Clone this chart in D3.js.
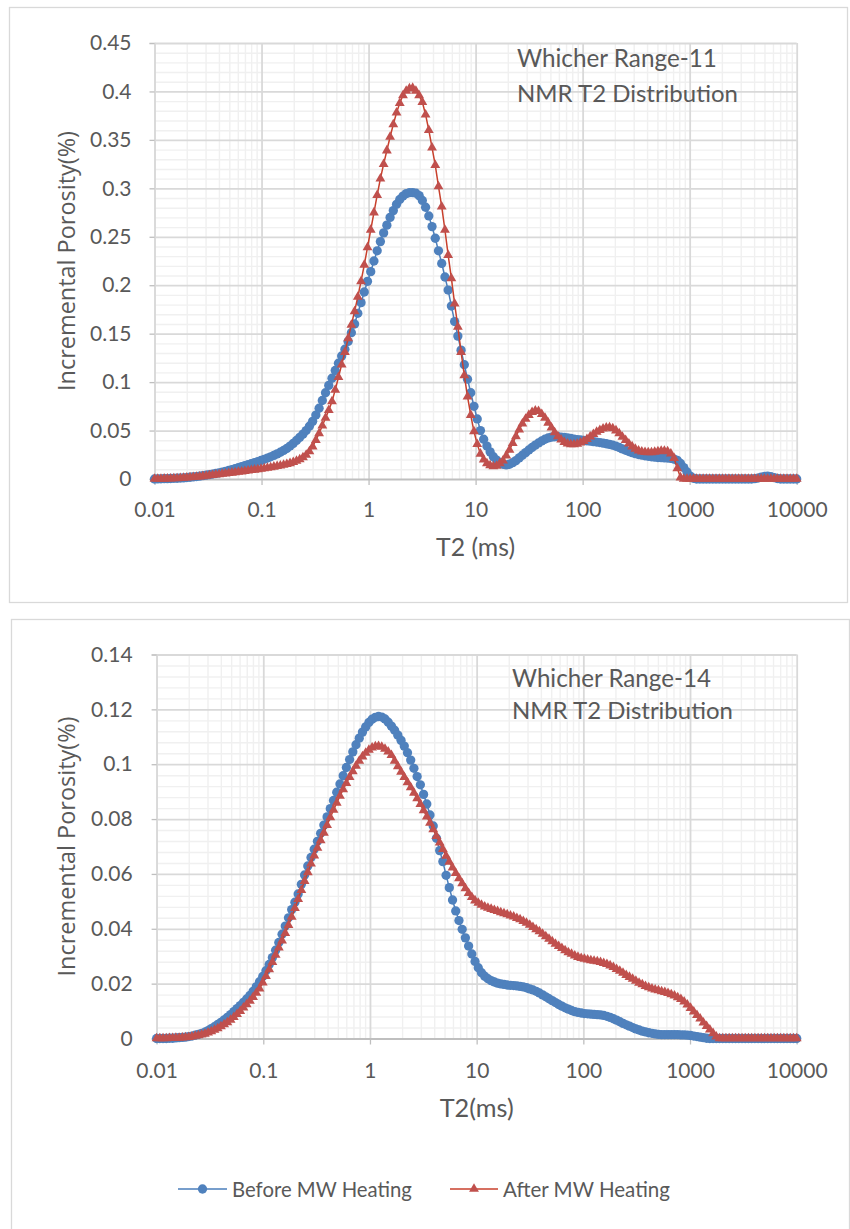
<!DOCTYPE html>
<html>
<head>
<meta charset="utf-8">
<script src="https://cdn.jsdelivr.net/npm/d3@7"></script>
<style>
  html, body { margin: 0; padding: 0; background: #ffffff; }
  svg { display: block; }
</style>
</head>
<body>
<script>
// ---- Data -------------------------------------------------------------
// NMR T2 bins: 200 logarithmically spaced relaxation times, 0.01 – 10000 ms
const binCount = 200;
const t2Bins = d3.range(binCount).map(i => Math.pow(10, -2 + 6 * i / (binCount - 1)));

// Whicher Range-11, incremental porosity (%) per T2 bin
const before11 = [
  0, 0.0001, 0.0002, 0.0003, 0.0004, 0.0005, 0.0007, 0.0008, 0.0010, 0.0012,
  0.0015, 0.0018, 0.0021, 0.0025, 0.0029, 0.0034, 0.0039, 0.0045, 0.0051, 0.0057,
  0.0064, 0.0071, 0.0079, 0.0088, 0.0097, 0.0107, 0.0118, 0.0128, 0.0138, 0.0148,
  0.0158, 0.0169, 0.0180, 0.0191, 0.0203, 0.0216, 0.0229, 0.0244, 0.0259, 0.0276,
  0.0295, 0.0315, 0.0340, 0.0368, 0.0398, 0.0430, 0.0463, 0.0500, 0.0545, 0.0595,
  0.0660, 0.0730, 0.0810, 0.0890, 0.0966, 0.1040, 0.1120, 0.1195, 0.1270, 0.1340,
  0.1420, 0.1510, 0.1600, 0.1710, 0.1820, 0.1930, 0.2040, 0.2140, 0.2250, 0.2355,
  0.2450, 0.2540, 0.2620, 0.2700, 0.2770, 0.2835, 0.2885, 0.2920, 0.2945, 0.2955,
  0.2955, 0.2950, 0.2925, 0.2875, 0.2805, 0.2715, 0.2605, 0.2485, 0.2355, 0.2225,
  0.2085, 0.1950, 0.1785, 0.1625, 0.1475, 0.1330, 0.1180, 0.1030, 0.0890, 0.0750,
  0.0620, 0.0500, 0.0410, 0.0340, 0.0280, 0.0230, 0.0195, 0.0170, 0.0152, 0.0145,
  0.0152, 0.0168, 0.0190, 0.0218, 0.0245, 0.0272, 0.0300, 0.0325, 0.0350, 0.0372,
  0.0393, 0.0410, 0.0424, 0.0432, 0.0436, 0.0436, 0.0433, 0.0429, 0.0424, 0.0418,
  0.0412, 0.0407, 0.0403, 0.0399, 0.0395, 0.0391, 0.0386, 0.0381, 0.0376, 0.0370,
  0.0364, 0.0357, 0.0349, 0.0338, 0.0325, 0.0311, 0.0297, 0.0284, 0.0272, 0.0262,
  0.0253, 0.0246, 0.0240, 0.0234, 0.0229, 0.0225, 0.0222, 0.0220, 0.0218, 0.0216,
  0.0212, 0.0205, 0.0192, 0.0160, 0.0118, 0.0072, 0.0030, 0.0008, 0, 0,
  0, 0, 0, 0, 0, 0, 0, 0, 0, 0,
  0, 0, 0, 0, 0, 0, 0.0003, 0.0010, 0.0020, 0.0028,
  0.0030, 0.0024, 0.0014, 0.0005, 0, 0, 0, 0, 0, 0
];
const after11 = [
  0, 0, 0.0001, 0.0002, 0.0003, 0.0004, 0.0005, 0.0007, 0.0009, 0.0011,
  0.0013, 0.0016, 0.0019, 0.0022, 0.0025, 0.0028, 0.0032, 0.0036, 0.0040, 0.0044,
  0.0048, 0.0052, 0.0056, 0.0060, 0.0064, 0.0068, 0.0072, 0.0076, 0.0080, 0.0085,
  0.0090, 0.0095, 0.0100, 0.0105, 0.0110, 0.0115, 0.0120, 0.0126, 0.0132, 0.0138,
  0.0145, 0.0153, 0.0162, 0.0173, 0.0186, 0.0202, 0.0222, 0.0248, 0.0285, 0.0335,
  0.0400, 0.0470, 0.0550, 0.0630, 0.0710, 0.0800, 0.0920, 0.1050, 0.1180, 0.1310,
  0.1450, 0.1590, 0.1730, 0.1880, 0.2040, 0.2210, 0.2390, 0.2570, 0.2750, 0.2930,
  0.3100, 0.3250, 0.3390, 0.3530, 0.3660, 0.3780, 0.3880, 0.3960, 0.4005, 0.4030,
  0.4035, 0.4005, 0.3960, 0.3890, 0.3760, 0.3600, 0.3420, 0.3240, 0.3020, 0.2810,
  0.2570, 0.2310, 0.2070, 0.1810, 0.1570, 0.1310, 0.1070, 0.0850, 0.0660, 0.0490,
  0.0360, 0.0260, 0.0200, 0.0160, 0.0140, 0.0130, 0.0135, 0.0160, 0.0190, 0.0240,
  0.0300, 0.0370, 0.0440, 0.0510, 0.0570, 0.0620, 0.0660, 0.0690, 0.0705, 0.0700,
  0.0670, 0.0630, 0.0580, 0.0530, 0.0480, 0.0440, 0.0405, 0.0380, 0.0365, 0.0358,
  0.0357, 0.0362, 0.0374, 0.0390, 0.0412, 0.0437, 0.0462, 0.0485, 0.0505, 0.0520,
  0.0530, 0.0532, 0.0522, 0.0500, 0.0470, 0.0435, 0.0400, 0.0365, 0.0335, 0.0310,
  0.0293, 0.0282, 0.0276, 0.0274, 0.0275, 0.0279, 0.0284, 0.0289, 0.0290, 0.0284,
  0.0262, 0.0215, 0.0110, 0.0015, 0, 0, 0, 0, 0, 0,
  0, 0, 0, 0, 0, 0, 0, 0, 0, 0,
  0, 0, 0, 0, 0, 0, 0, 0, 0, 0,
  0, 0, 0, 0, 0, 0, 0, 0, 0, 0
];

// Whicher Range-14, incremental porosity (%) per T2 bin
const before14 = [
  0, 0, 0, 0, 0.0001, 0.0001, 0.0002, 0.0003, 0.0004, 0.0005,
  0.0007, 0.0009, 0.0012, 0.0015, 0.0019, 0.0023, 0.0029, 0.0036, 0.0043, 0.0051,
  0.0059, 0.0068, 0.0077, 0.0087, 0.0098, 0.0109, 0.0120, 0.0132, 0.0144, 0.0157,
  0.0172, 0.0189, 0.0207, 0.0226, 0.0247, 0.0270, 0.0295, 0.0322, 0.0350, 0.0380,
  0.0410, 0.0440, 0.0470, 0.0497, 0.0527, 0.0562, 0.0596, 0.0629, 0.0660, 0.0690,
  0.0719, 0.0748, 0.0778, 0.0808, 0.0838, 0.0868, 0.0898, 0.0928, 0.0958, 0.0988,
  0.1017, 0.1045, 0.1071, 0.1095, 0.1117, 0.1136, 0.1152, 0.1164, 0.1171, 0.1174,
  0.1172, 0.1165, 0.1153, 0.1139, 0.1124, 0.1106, 0.1087, 0.1066, 0.1042, 0.1015,
  0.0985, 0.0955, 0.0925, 0.0890, 0.0855, 0.0815, 0.0775, 0.0730, 0.0685, 0.0645,
  0.0595, 0.0550, 0.0505, 0.0465, 0.0430, 0.0398, 0.0367, 0.0337, 0.0308, 0.0281,
  0.0258, 0.0240, 0.0227, 0.0218, 0.0211, 0.0206, 0.0202, 0.0199, 0.0197, 0.0195,
  0.0194, 0.0193, 0.0192, 0.0190, 0.0188, 0.0185, 0.0181, 0.0177, 0.0172, 0.0166,
  0.0159, 0.0152, 0.0145, 0.0138, 0.0131, 0.0124, 0.0118, 0.0112, 0.0107, 0.0102,
  0.0098, 0.0095, 0.0093, 0.0091, 0.0090, 0.0089, 0.0088, 0.0087, 0.0086, 0.0084,
  0.0081, 0.0077, 0.0072, 0.0067, 0.0061, 0.0055, 0.0050, 0.0045, 0.0040, 0.0035,
  0.0031, 0.0027, 0.0024, 0.0021, 0.0019, 0.0017, 0.0015, 0.0014, 0.0014, 0.0014,
  0.0014, 0.0014, 0.0014, 0.0013, 0.0013, 0.0012, 0.0011, 0.0009, 0.0007, 0.0005,
  0.0003, 0.0001, 0, 0, 0, 0, 0, 0, 0, 0,
  0, 0, 0, 0, 0, 0, 0, 0, 0, 0,
  0, 0, 0, 0, 0, 0, 0, 0, 0, 0
];
const after14 = [
  0, 0, 0, 0, 0.0001, 0.0001, 0.0002, 0.0002, 0.0003, 0.0004,
  0.0005, 0.0007, 0.0009, 0.0011, 0.0014, 0.0017, 0.0021, 0.0026, 0.0031, 0.0037,
  0.0044, 0.0051, 0.0059, 0.0068, 0.0078, 0.0089, 0.0100, 0.0112, 0.0124, 0.0137,
  0.0151, 0.0166, 0.0182, 0.0204, 0.0227, 0.0252, 0.0278, 0.0305, 0.0331, 0.0357,
  0.0384, 0.0413, 0.0443, 0.0475, 0.0508, 0.0541, 0.0574, 0.0606, 0.0637, 0.0667,
  0.0695, 0.0722, 0.0750, 0.0778, 0.0806, 0.0833, 0.0859, 0.0884, 0.0908, 0.0931,
  0.0953, 0.0974, 0.0994, 0.1012, 0.1028, 0.1041, 0.1052, 0.1060, 0.1065, 0.1066,
  0.1063, 0.1056, 0.1046, 0.1033, 0.1012, 0.0992, 0.0972, 0.0953, 0.0934, 0.0915,
  0.0895, 0.0875, 0.0854, 0.0832, 0.0809, 0.0786, 0.0762, 0.0738, 0.0714, 0.0690,
  0.0666, 0.0644, 0.0623, 0.0603, 0.0584, 0.0565, 0.0547, 0.0530, 0.0515, 0.0503,
  0.0494, 0.0487, 0.0481, 0.0476, 0.0472, 0.0468, 0.0464, 0.0460, 0.0456, 0.0452,
  0.0448, 0.0444, 0.0439, 0.0434, 0.0428, 0.0421, 0.0414, 0.0406, 0.0398, 0.0390,
  0.0381, 0.0372, 0.0363, 0.0354, 0.0345, 0.0337, 0.0329, 0.0321, 0.0314, 0.0308,
  0.0302, 0.0297, 0.0293, 0.0290, 0.0287, 0.0285, 0.0283, 0.0281, 0.0278, 0.0275,
  0.0271, 0.0266, 0.0260, 0.0253, 0.0246, 0.0239, 0.0231, 0.0224, 0.0217, 0.0210,
  0.0203, 0.0197, 0.0191, 0.0186, 0.0182, 0.0178, 0.0175, 0.0172, 0.0169, 0.0165,
  0.0161, 0.0156, 0.0150, 0.0143, 0.0134, 0.0123, 0.0111, 0.0098, 0.0085, 0.0072,
  0.0058, 0.0045, 0.0032, 0.0019, 0.0007, 0, 0, 0, 0, 0,
  0, 0, 0, 0, 0, 0, 0, 0, 0, 0,
  0, 0, 0, 0, 0, 0, 0, 0, 0, 0
];

// Axis ticks and labels
const xTicks = [0.01, 0.1, 1, 10, 100, 1000, 10000];
const xTickLabels = ["0.01", "0.1", "1", "10", "100", "1000", "10000"];
const yTicks11 = [0, 0.05, 0.1, 0.15, 0.2, 0.25, 0.3, 0.35, 0.4, 0.45];
const yTickLabels11 = ["0", "0.05", "0.1", "0.15", "0.2", "0.25", "0.3", "0.35", "0.4", "0.45"];
const yTicks14 = [0, 0.02, 0.04, 0.06, 0.08, 0.1, 0.12, 0.14];
const yTickLabels14 = ["0", "0.02", "0.04", "0.06", "0.08", "0.1", "0.12", "0.14"];
const seriesNames = ["Before MW Heating", "After MW Heating"];

// ---- Style --------------------------------------------------------------
const BLUE = "#4F81BD", BLUE_LINE = "#4A7EBB";
const RED = "#C0504D", RED_LINE = "#C8402C";
const TEXT = "#595959";
const GRID_MAJOR = "#d9d9d9", GRID_MINOR = "#f0f0f0", AXIS = "#bfbfbf";
const TICK_FONT = "Lato, 'Open Sans', sans-serif";

const W = 850, H = 1229;
const svg = d3.select("body").append("svg").attr("width", W).attr("height", H);

// scale a text's font size so its rendered width equals the given width
function fitWidth(sel, width) {
  const node = sel.node();
  const fs = parseFloat(sel.attr("font-size"));
  const len = node.getComputedTextLength();
  if (len > 0) sel.attr("font-size", (fs * width / len).toFixed(2));
  return sel;
}

const circleSym = d3.symbol().type(d3.symbolCircle).size(68);
const triSym = d3.symbol().type(d3.symbolTriangle).size(42);

function drawPanel(cfg) {
  const g = svg.append("g");
  const x = d3.scaleLog().domain([0.01, 10000]).range([cfg.left, cfg.right]);
  const y = d3.scaleLinear().domain([0, cfg.yMax]).range([cfg.bottom, cfg.top]);
  const plotW = cfg.right - cfg.left;
  const plotH = cfg.bottom - cfg.top;

  // chart frame
  g.append("rect")
    .attr("x", cfg.frame[0]).attr("y", cfg.frame[1])
    .attr("width", cfg.frame[2]).attr("height", cfg.frame[3])
    .attr("fill", "none").attr("stroke", GRID_MAJOR).attr("stroke-width", 1.3);

  // minor gridlines
  const minorX = [];
  for (let k = -2; k < 4; k++) for (let m = 2; m < 10; m++) minorX.push(m * Math.pow(10, k));
  const minorY = d3.range(1, Math.round(cfg.yMax / cfg.yMinor)).map(i => +(i * cfg.yMinor).toFixed(4))
    .filter(v => !cfg.yTicks.some(t => Math.abs(t - v) < 1e-9));

  const gridStyle = (sel, color, width) => {
    sel.select(".domain").remove();
    sel.selectAll(".tick line").attr("stroke", color).attr("stroke-width", width);
    sel.selectAll(".tick text").remove();
  };

  g.append("g").attr("transform", `translate(0,${cfg.top})`)
    .call(d3.axisBottom(x).tickValues(minorX).tickSize(plotH).tickFormat(""))
    .call(s => gridStyle(s, GRID_MINOR, 1.4));
  g.append("g").attr("transform", `translate(${cfg.left},0)`)
    .call(d3.axisRight(y).tickValues(minorY).tickSize(plotW).tickFormat(""))
    .call(s => gridStyle(s, GRID_MINOR, 1.4));

  // major gridlines
  g.append("g").attr("transform", `translate(0,${cfg.top})`)
    .call(d3.axisBottom(x).tickValues(xTicks).tickSize(plotH).tickFormat(""))
    .call(s => gridStyle(s, GRID_MAJOR, 1.8));
  g.append("g").attr("transform", `translate(${cfg.left},0)`)
    .call(d3.axisRight(y).tickValues(cfg.yTicks.slice(1)).tickSize(plotW).tickFormat(""))
    .call(s => gridStyle(s, GRID_MAJOR, 1.8));

  // y axis (ticks + labels)
  const yAxis = g.append("g").attr("transform", `translate(${cfg.left},0)`)
    .call(d3.axisLeft(y).tickValues(cfg.yTicks).tickSize(5).tickPadding(cfg.yPad)
      .tickFormat((d, i) => cfg.yLabels[i]));
  yAxis.select(".domain").attr("stroke", GRID_MAJOR).attr("stroke-width", 1.5);
  yAxis.selectAll(".tick line").attr("stroke", AXIS).attr("stroke-width", 1.3);
  yAxis.selectAll(".tick text").attr("fill", TEXT).attr("font-family", TICK_FONT).attr("font-size", 21);

  // x axis (ticks + labels)
  const xAxis = g.append("g").attr("transform", `translate(0,${cfg.bottom})`)
    .call(d3.axisBottom(x).tickValues(xTicks).tickSizeInner(6).tickSizeOuter(0).tickPadding(cfg.xPad)
      .tickFormat((d, i) => xTickLabels[i]));
  xAxis.select(".domain").attr("stroke", AXIS).attr("stroke-width", 1.8);
  xAxis.selectAll(".tick line").attr("stroke", AXIS).attr("stroke-width", 1.3);
  xAxis.selectAll(".tick text").attr("fill", TEXT).attr("font-family", TICK_FONT).attr("font-size", 21);

  // series
  const line = d3.line().x(d => x(d[0])).y(d => y(d[1]));
  const series = [
    { values: cfg.before, color: BLUE, lineColor: BLUE_LINE, sym: circleSym },
    { values: cfg.after, color: RED, lineColor: RED_LINE, sym: triSym }
  ];
  series.forEach(s => {
    const pts = t2Bins.map((t, i) => [t, s.values[i]]);
    g.append("path").datum(pts).attr("d", line)
      .attr("fill", "none").attr("stroke", s.lineColor).attr("stroke-width", 1.5);
    g.append("g").selectAll("path").data(pts).join("path")
      .attr("transform", d => `translate(${x(d[0])},${y(d[1])})`)
      .attr("d", s.sym).attr("fill", s.color);
  });

  // in-plot title
  cfg.title.forEach((t, i) => {
    const tt = g.append("text").attr("x", cfg.titleX).attr("y", cfg.titleY[i])
      .attr("font-family", TICK_FONT).attr("font-size", 22).attr("fill", TEXT).text(t);
    fitWidth(tt, cfg.titleW[i]);
  });

  // axis titles
  const xt = g.append("text").attr("x", (cfg.left + cfg.right) / 2).attr("y", cfg.xTitleY)
    .attr("text-anchor", "middle").attr("font-family", TICK_FONT).attr("font-size", 21)
    .attr("fill", TEXT).text(cfg.xTitle);
  fitWidth(xt, cfg.xTitleW);

  const yt = g.append("text")
    .attr("transform", `translate(${cfg.yTitleX},${(cfg.top + cfg.bottom) / 2}) rotate(-90)`)
    .attr("text-anchor", "middle").attr("font-family", "'Open Sans', 'DejaVu Sans', sans-serif")
    .attr("font-size", 19).attr("fill", TEXT).text("Incremental Porosity(%)");
  fitWidth(yt, 260);
}

drawPanel({
  left: 154.5, right: 796.7, top: 43, bottom: 479,
  yMax: 0.45, yMinor: 0.01, yTicks: yTicks11, yLabels: yTickLabels11,
  yPad: 18, xPad: 17,
  frame: [9.5, 7.5, 838, 595],
  before: before11, after: after11,
  title: ["Whicher Range-11", "NMR T2 Distribution"],
  titleX: 517, titleY: [67, 102], titleW: [200, 221],
  xTitle: "T2 (ms)", xTitleY: 556, xTitleW: 79,
  yTitleX: 75
});

drawPanel({
  left: 156.6, right: 796.7, top: 654.5, bottom: 1038.5,
  yMax: 0.14, yMinor: 0.004, yTicks: yTicks14, yLabels: yTickLabels14,
  yPad: 19, xPad: 18.5,
  frame: [11.5, 619.5, 838, 640],
  before: before14, after: after14,
  title: ["Whicher Range-14", "NMR T2 Distribution"],
  titleX: 512, titleY: [687, 719], titleW: [199, 221],
  xTitle: "T2(ms)", xTitleY: 1117, xTitleW: 74,
  yTitleX: 75
});

// legend
const legend = svg.append("g");
const legendItems = [
  { name: seriesNames[0], color: BLUE, lineColor: BLUE_LINE, sym: circleSym, x0: 178, x1: 227, textX: 232, w: 180 },
  { name: seriesNames[1], color: RED, lineColor: RED_LINE, sym: triSym, x0: 450, x1: 498, textX: 503, w: 167 }
];
legendItems.forEach(it => {
  legend.append("line").attr("x1", it.x0).attr("x2", it.x1).attr("y1", 1189).attr("y2", 1189)
    .attr("stroke", it.lineColor).attr("stroke-width", 1.5);
  legend.append("path").attr("transform", `translate(${(it.x0 + it.x1) / 2},1189)`)
    .attr("d", it.sym).attr("fill", it.color);
  const t = legend.append("text").attr("x", it.textX).attr("y", 1197)
    .attr("font-family", TICK_FONT).attr("font-size", 21).attr("fill", TEXT).text(it.name);
  fitWidth(t, it.w);
});
</script>
</body>
</html>
